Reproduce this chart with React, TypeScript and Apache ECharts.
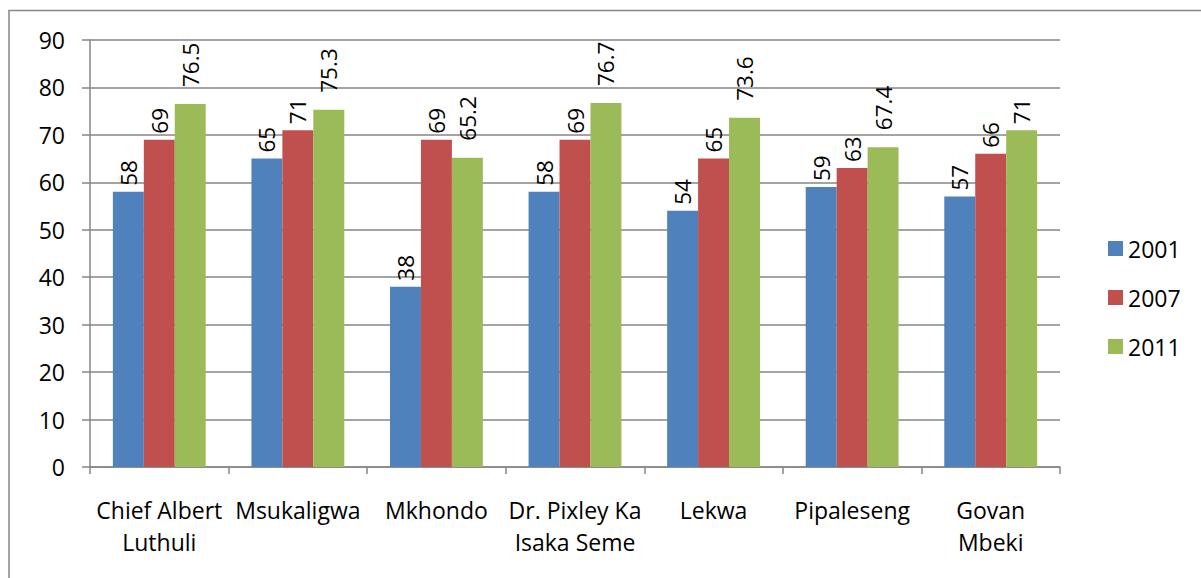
import React, { useEffect, useRef } from "react";
import * as echarts from "echarts";

const categories = [
  "Chief Albert\nLuthuli",
  "Msukaligwa",
  "Mkhondo",
  "Dr. Pixley Ka\nIsaka Seme",
  "Lekwa",
  "Pipaleseng",
  "Govan\nMbeki",
];
const seriesNames = ["2001", "2007", "2011"];
const values2001 = [58, 65, 38, 58, 54, 59, 57];
const values2007 = [69, 71, 69, 69, 65, 63, 66];
const values2011 = [76.5, 75.3, 65.2, 76.7, 73.6, 67.4, 71];
const colors = ["#4F81BD", "#C0504D", "#9BBB59"];
const yTicks = { min: 0, max: 90, interval: 10 };

const FONT = "'Open Sans', 'Noto Sans', sans-serif";
const GRAY = "#868686";

export default function App() {
  const ref = useRef<HTMLDivElement>(null);
  useEffect(() => {
    if (!ref.current) return;
    const chart = echarts.init(ref.current, null, { renderer: "svg" });
    const allValues = [values2001, values2007, values2011];
    const series = allValues.map((vals, i) => ({
      name: seriesNames[i],
      type: "bar",
      barGap: "0%",
      barCategoryGap: "33%",
      itemStyle: { color: colors[i] },
      data: vals.map((v) => ({
        value: v,
        label: { distance: String(v).includes(".") ? 17 : 6 },
      })),
      label: {
        show: true,
        position: "top",
        rotate: 90,
        align: "left",
        verticalAlign: "middle",
        fontFamily: FONT,
        fontSize: 22.5,
        color: "#000",
      },
    }));
    chart.setOption({
      animation: false,
      textStyle: { fontFamily: FONT },
      graphic: [
        {
          type: "rect",
          shape: { x: 9, y: 10.5, width: 1400, height: 800 },
          style: { fill: "none", stroke: GRAY, lineWidth: 1.5 },
          silent: true,
        },
      ],
      grid: { left: 90, right: 141, top: 40, bottom: 111, containLabel: false },
      legend: {
        orient: "vertical",
        left: 1103,
        top: 232,
        itemWidth: 15,
        itemHeight: 15,
        itemGap: 26,
        itemTextGap: 6,
        icon: "rect",
        textStyle: { fontFamily: FONT, fontSize: 23, color: "#000" },
        data: seriesNames,
      },
      xAxis: {
        type: "category",
        data: categories,
        axisLine: { show: true, lineStyle: { color: GRAY, width: 1.5 } },
        axisTick: { show: true, length: 7, lineStyle: { color: GRAY, width: 1.5 } },
        axisLabel: {
          interval: 0,
          margin: 27,
          fontFamily: FONT,
          fontSize: 23,
          color: "#000",
          lineHeight: 32,
        },
      },
      yAxis: {
        type: "value",
        min: yTicks.min,
        max: yTicks.max,
        interval: yTicks.interval,
        axisLine: { show: true, lineStyle: { color: GRAY, width: 1.5 } },
        axisTick: { show: true, length: 8, lineStyle: { color: GRAY, width: 1.5 } },
        splitLine: { show: true, lineStyle: { color: GRAY, width: 1.5 } },
        axisLabel: { margin: 25, fontFamily: FONT, fontSize: 23, color: "#000" },
      },
      series,
    });
    return () => chart.dispose();
  }, []);
  return (
    <div
      ref={ref}
      style={{ position: "fixed", left: 0, top: 0, width: 1201, height: 578, background: "#fff" }}
    />
  );
}
